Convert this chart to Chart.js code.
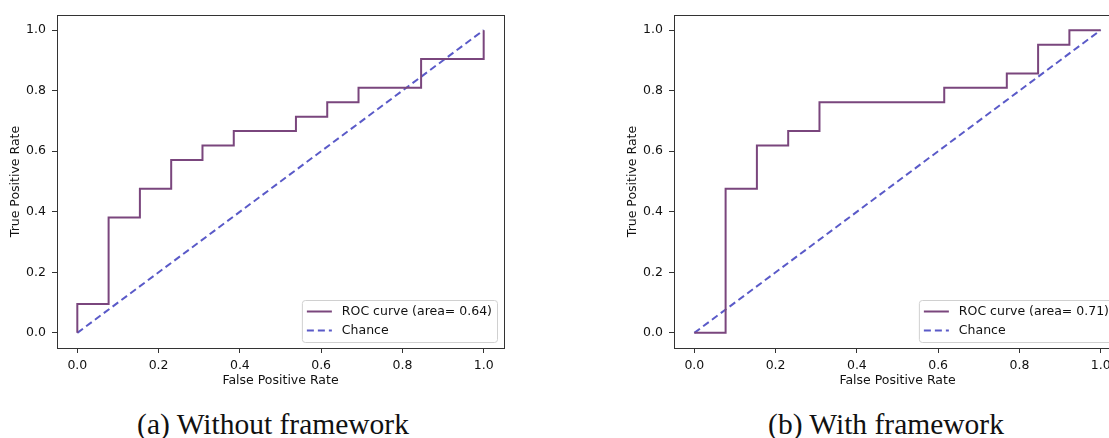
<!DOCTYPE html>
<html>
<head>
<meta charset="utf-8">
<script src="https://cdn.jsdelivr.net/npm/chart.js@4.4.1/dist/chart.umd.min.js"></script>
<style>
  html, body { margin: 0; padding: 0; background: #fff; }
  body { width: 1109px; height: 438px; overflow: hidden; position: relative; }
  canvas { position: absolute; top: 0; }
  .caption {
    position: absolute; top: 408px; width: 400px; text-align: center;
    font-family: "Liberation Serif", serif; font-size: 29.5px; line-height: 32px; color: #111;
  }
</style>
</head>
<body>
<canvas id="left" width="520" height="400" style="left:0px"></canvas>
<canvas id="right" width="520" height="400" style="left:617px"></canvas>
<div class="caption" style="left:73px">(a) Without framework</div>
<div class="caption" style="left:686px">(b) With framework</div>
<script>
// ROC points (fpr / tpr)
const fprWithout = [0, 0, 0.077, 0.077, 0.154, 0.154, 0.231, 0.231, 0.308, 0.308, 0.385, 0.385,
  0.538, 0.538, 0.615, 0.615, 0.692, 0.692, 0.846, 0.846, 1.0, 1.0];
const tprWithout = [0, 0.095, 0.095, 0.381, 0.381, 0.476, 0.476, 0.571, 0.571, 0.619, 0.619, 0.667,
  0.667, 0.714, 0.714, 0.762, 0.762, 0.810, 0.810, 0.905, 0.905, 1.0];
const fprWith = [0, 0.077, 0.077, 0.154, 0.154, 0.231, 0.231, 0.308, 0.308, 0.615, 0.615,
  0.769, 0.769, 0.846, 0.846, 0.923, 0.923, 1.0];
const tprWith = [0, 0, 0.476, 0.476, 0.619, 0.619, 0.667, 0.667, 0.762, 0.762, 0.810,
  0.810, 0.857, 0.857, 0.952, 0.952, 1.0, 1.0];
const chanceX = [0, 1];
const chanceY = [0, 1];
const areaWithout = 0.64;
const areaWith = 0.71;
const tickValues = [0, 0.2, 0.4, 0.6, 0.8, 1.0];

const FONT = 'DejaVu Sans';
const FSIZE = 12.5;
const zip = (xs, ys) => xs.map((x, i) => ({ x, y: ys[i] }));

// matplotlib style: full frame + legend box in lower right
const frameAndLegend = {
  id: 'frameAndLegend',
  afterDatasetsDraw(chart) {
    const { ctx, chartArea: a } = chart;
    ctx.save();
    ctx.strokeStyle = '#333';
    ctx.lineWidth = 1;
    ctx.strokeRect(Math.round(a.left) + 0.5, Math.round(a.top) + 0.5,
      Math.round(a.right - a.left), Math.round(a.bottom - a.top));

    ctx.font = `${FSIZE}px "${FONT}"`;
    const sets = chart.data.datasets;
    const textW = Math.max(...sets.map(d => ctx.measureText(d.label).width));
    const w = 40 + textW + 5, h = 42;
    const x0 = a.right - 7 - w, y0 = a.bottom - 6 - h;
    ctx.beginPath();
    ctx.roundRect(x0 + 0.5, y0 + 0.5, w, h, 3);
    ctx.fillStyle = 'rgba(255,255,255,0.8)';
    ctx.fill();
    ctx.strokeStyle = '#d0d0d0';
    ctx.stroke();
    sets.forEach((d, i) => {
      const yy = y0 + 11.5 + i * 19;
      ctx.beginPath();
      ctx.strokeStyle = d.borderColor;
      ctx.lineWidth = d.borderWidth;
      ctx.setLineDash(d.borderDash || []);
      ctx.moveTo(x0 + 5, yy);
      ctx.lineTo(x0 + 30, yy);
      ctx.stroke();
      ctx.setLineDash([]);
      ctx.fillStyle = '#111';
      ctx.textBaseline = 'middle';
      ctx.fillText(d.label, x0 + 40, yy);
    });
    ctx.restore();
  }
};

function axis(title, horizontal) {
  return {
    type: 'linear',
    min: -0.05,
    max: 1.05,
    afterBuildTicks: s => { s.ticks = tickValues.map(v => ({ value: v })); },
    afterFit: s => { if (horizontal) s.height = 52; else s.width = 57; },
    ticks: {
      color: '#111',
      font: { family: FONT, size: FSIZE },
      padding: horizontal ? 5 : 6,
      callback: v => v.toFixed(1)
    },
    grid: { drawOnChartArea: false, drawTicks: true, tickLength: 5, tickColor: '#333' },
    border: { display: true, color: '#333' },
    title: {
      display: true, text: title, color: '#111',
      font: { family: FONT, size: FSIZE },
      padding: horizontal ? { top: 0, bottom: 12 } : { top: 8, bottom: 0 }
    }
  };
}

function rocChart(id, fpr, tpr, area) {
  new Chart(document.getElementById(id), {
    type: 'scatter',
    data: {
      datasets: [
        {
          label: 'ROC curve (area= ' + area.toFixed(2) + ')',
          data: zip(fpr, tpr),
          showLine: true,
          borderColor: '#7a467d',
          borderWidth: 2,
          pointRadius: 0,
          tension: 0
        },
        {
          label: 'Chance',
          data: zip(chanceX, chanceY),
          showLine: true,
          borderColor: '#5a5ac8',
          borderWidth: 2,
          borderDash: [7, 4],
          pointRadius: 0
        }
      ]
    },
    options: {
      responsive: false,
      animation: false,
      layout: { padding: { top: 15, right: 16, left: 0, bottom: 0 } },
      plugins: { legend: { display: false }, tooltip: { enabled: false } },
      scales: {
        x: axis('False Positive Rate', true),
        y: axis('True Positive Rate', false)
      }
    },
    plugins: [frameAndLegend]
  });
}

rocChart('left', fprWithout, tprWithout, areaWithout);
rocChart('right', fprWith, tprWith, areaWith);
</script>
</body>
</html>
